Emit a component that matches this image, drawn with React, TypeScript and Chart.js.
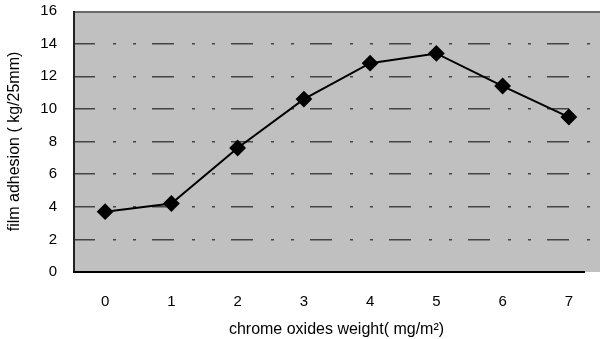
import React, { useEffect, useRef } from "react";
import { Chart, registerables } from "chart.js";
Chart.register(...registerables);

const xValues = [0, 1, 2, 3, 4, 5, 6, 7];
const adhesion = [3.7, 4.2, 7.6, 10.6, 12.8, 13.4, 11.4, 9.5];
const xTicks = [0, 1, 2, 3, 4, 5, 6, 7];
const yTicks = [0, 2, 4, 6, 8, 10, 12, 14, 16];
const xTitle = "chrome oxides weight( mg/m\u00B2)";
const yTitle = "film adhesion ( kg/25mm)";

const FONT = "Liberation Sans";

const bgPlugin = {
  id: "bgPlugin",
  beforeDraw(chart: any) {
    const { ctx, chartArea: a } = chart;
    ctx.save();
    ctx.fillStyle = "#c0c0c0";
    ctx.fillRect(a.left, a.top, a.right - a.left, a.bottom - a.top);
    ctx.restore();
  },
  beforeDatasetsDraw(chart: any) {
    const { ctx, chartArea: a } = chart;
    ctx.save();
    ctx.strokeStyle = "#6a6a6a";
    ctx.lineWidth = 2;
    ctx.beginPath();
    ctx.moveTo(a.left, a.top + 1);
    ctx.lineTo(a.right, a.top + 1);
    ctx.stroke();
    ctx.strokeStyle = "#222";
    ctx.lineWidth = 2;
    ctx.beginPath();
    ctx.moveTo(a.left + 1, a.top);
    ctx.lineTo(a.left + 1, a.bottom);
    ctx.stroke();
    ctx.strokeStyle = "#000";
    ctx.beginPath();
    ctx.moveTo(a.left, a.bottom);
    ctx.lineTo(a.right - 15, a.bottom);
    ctx.stroke();
    ctx.restore();
  },
};

const zeroPad = (s: any) => {
  s.paddingTop = 0;
  s.paddingBottom = 0;
  s.paddingLeft = 0;
  s.paddingRight = 0;
};

export default function App() {
  const ref = useRef<HTMLCanvasElement>(null);
  useEffect(() => {
    const chart = new Chart(ref.current!, {
      type: "line",
      data: {
        datasets: [
          {
            data: xValues.map((x, i) => ({ x, y: adhesion[i] })),
            borderColor: "#000",
            backgroundColor: "#000",
            borderWidth: 2,
            pointStyle: "rectRot",
            pointRadius: 7,
            pointHoverRadius: 7,
            tension: 0,
          },
        ],
      },
      options: {
        animation: false,
        responsive: false,
        layout: { autoPadding: false, padding: { top: 11, right: 0, left: 0, bottom: 0 } },
        plugins: { legend: { display: false }, tooltip: { enabled: false } },
        scales: {
          x: {
            type: "linear",
            min: -0.485,
            max: 7.47,
            afterBuildTicks: (s: any) => {
              s.ticks = xTicks.map((v) => ({ value: v }));
            },
            afterFit: (s: any) => {
              s.height = 67;
              zeroPad(s);
            },
            grid: { display: false, drawTicks: false },
            border: { display: false },
            ticks: {
              color: "#000",
              padding: 21,
              font: { family: FONT, size: 15 },
            },
            title: {
              display: true,
              text: xTitle,
              color: "#000",
              padding: { top: 3.5, bottom: 0 },
              font: { family: FONT, size: 16 },
            },
          },
          y: {
            min: 0,
            max: 16,
            afterBuildTicks: (s: any) => {
              s.ticks = yTicks.map((v) => ({ value: v }));
            },
            afterFit: (s: any) => {
              s.width = 73;
              zeroPad(s);
            },
            grid: {
              color: (c: any) =>
                c.tick && (c.tick.value === 0 || c.tick.value === 16) ? "rgba(0,0,0,0)" : "#444",
              lineWidth: 1.5,
              drawTicks: false,
            },
            border: { display: false, dash: [22, 18, 3, 17, 3, 16] },
            ticks: {
              color: "#000",
              padding: 16,
              font: { family: FONT, size: 15 },
            },
            title: {
              display: true,
              text: yTitle,
              color: "#000",
              padding: { top: 5, bottom: 0 },
              font: { family: FONT, size: 16 },
            },
          },
        },
      },
      plugins: [bgPlugin],
    });
    return () => chart.destroy();
  }, []);
  return (
    <div style={{ position: "absolute", left: 0, top: 0, width: 600, height: 339, background: "#fff" }}>
      <canvas ref={ref} width={600} height={339} />
    </div>
  );
}
